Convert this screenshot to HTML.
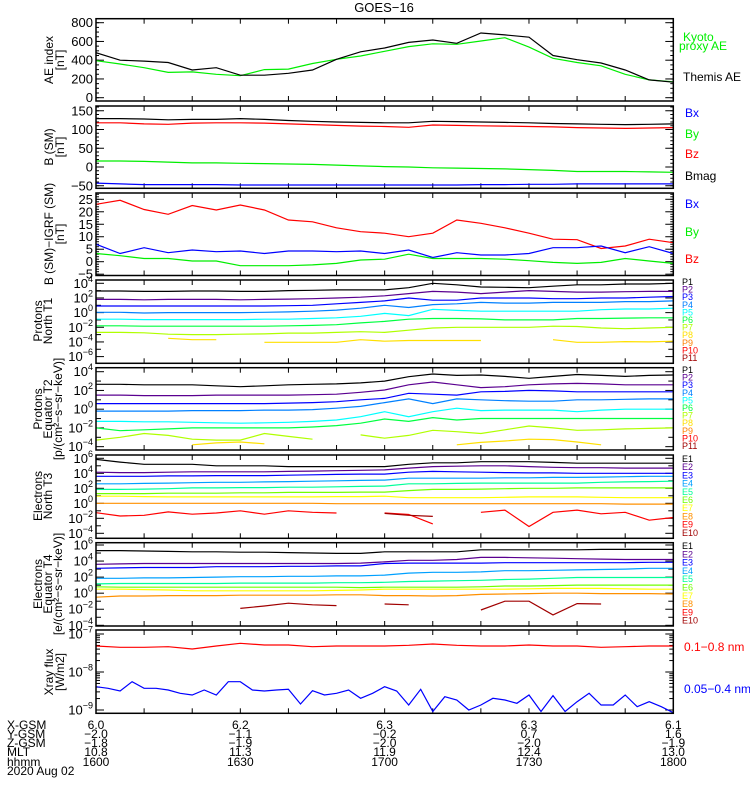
<!DOCTYPE html>
<html><head><meta charset="utf-8"><style>
body{margin:0;background:#fff}
svg{display:block;font-family:"Liberation Sans",sans-serif}
</style></head><body>
<svg id="c" width="750" height="800" viewBox="0 0 750 800"></svg>
<script>
// ---- data (time in minutes after 16:00) ----
const times5 = [0,5,10,15,20,25,30,35,40,45,50,55,60,65,70,75,80,85,90,95,100,105,110,115,120];
const times25 = [0,2.5,5,7.5,10,12.5,15,17.5,20,22.5,25,27.5,30,32.5,35,37.5,40,42.5,45,47.5,50,52.5,55,57.5,60,62.5,65,67.5,70,72.5,75,77.5,80,82.5,85,87.5,90,92.5,95,97.5,100,102.5,105,107.5,110,112.5,115,117.5,120];
const xTickLabels = ["1600","1630","1700","1730","1800"];
const xTickTimes = [0,30,60,90,120];
const xGsm = ["6.0","6.2","6.3","6.3","6.1"];
const yGsm = ["\u22122.0","\u22121.1","\u22120.2","0.7","1.6"];
const zGsm = ["\u22121.8","\u22121.9","\u22122.0","\u22122.0","\u22121.9"];
const mlt = ["10.8","11.3","11.9","12.4","13.0"];
// AE
const aeThemis = [480,400,390,375,295,320,240,240,260,295,410,490,530,590,615,580,690,670,645,450,405,370,295,190,165];
const aeKyoto = [395,360,320,270,275,250,235,300,305,365,410,445,495,545,575,570,605,640,540,420,375,340,250,190,170];
// B (SM)
const bx = [-43,-45,-47,-47,-47,-47,-48,-48,-48,-48,-48,-48,-48,-48,-48,-48,-47,-47,-46,-46,-45,-45,-45,-45,-45];
const by = [16,16,15,13,11,11,10,9,8,7,5,3,1,0,-2,-3,-4,-5,-7,-9,-12,-12,-12,-13,-14];
const bz = [118,118,115,114,117,118,118,117,115,113,111,109,108,106,112,111,110,109,108,107,105,104,103,104,105];
const bmag = [129,129,128,126,127,127,129,127,124,122,120,119,118,118,122,121,120,119,118,116,115,114,113,114,115];
// B - IGRF
const dbx = [7,3.3,5.6,3.6,4.7,4,4.3,3.3,4.3,4.3,4,4.3,3.3,4.7,1.7,3.6,2.7,2.7,3.3,5.6,5.6,6.3,3.6,6,3.3];
const dby = [3.3,2.4,1.3,1.3,0.3,0.3,-1.6,-1.6,-1.6,-1.3,-0.7,0.7,1,3,1.3,1.3,1.3,1,0.4,-0.3,-0.7,-0.3,1.3,0.3,-0.7];
const dbz = [23,24.6,20.9,19,22.5,20.7,22.7,20.7,16.7,16,13.6,12,11.4,10,11.4,16.7,15.4,13.6,11.4,9,8.8,5.3,6.3,9,7.6];
// Protons North T1 (log10 flux)
const pT1 = [
 [2.95,2.95,2.9,2.9,2.95,2.95,2.9,2.9,3.0,3.05,3.1,3.1,3.1,3.4,4.0,3.8,3.5,3.45,3.4,3.6,3.8,3.8,3.9,3.9,4.0],
 [1.8,1.8,1.75,1.8,1.8,1.8,1.75,1.8,1.85,1.9,2.0,2.1,2.3,2.6,2.9,2.8,2.6,2.8,3.0,2.9,2.8,2.8,2.85,2.9,2.9],
 [0.9,0.9,0.9,0.9,0.9,0.9,0.9,0.9,0.95,1.0,1.2,1.4,1.6,2.0,1.7,1.7,2.0,2.0,2.0,1.9,1.9,2.0,2.0,2.1,2.2],
 [0.05,0.05,-0.05,0,0,0,0,0.05,0.1,0.2,0.35,0.6,1.0,0.7,1.1,1.2,1.4,1.3,1.3,1.4,1.4,1.4,1.5,1.5,1.6],
 [-0.9,-0.9,-0.95,-0.95,-0.95,-0.95,-0.95,-0.9,-0.9,-0.8,-0.7,-0.5,-0.1,-0.4,0.45,0.3,0.2,0.2,0.2,0.2,0.2,0.4,0.5,0.5,0.6],
 [-1.8,-1.8,-1.85,-1.85,-1.85,-1.85,-1.85,-1.85,-1.8,-1.75,-1.65,-1.4,-1.2,-0.9,-0.8,-0.8,-0.85,-1.0,-1.0,-1.0,-0.8,-0.8,-0.75,-0.7,-0.7],
 [-2.7,-2.7,-2.75,-2.95,-3.0,-3.0,-2.95,-2.9,-2.8,-2.8,-2.7,-2.6,-2.7,-2.4,-2.1,-2.0,-2.0,-2.0,-2.0,-1.85,-1.9,-2.1,-2.2,-2.1,-2.0],
 [null,null,null,-3.5,-3.7,-3.7,null,-4.05,-4.05,-4.05,-4.05,-3.7,-3.9,-3.8,-3.8,-3.8,-3.8,null,null,-3.7,-4.05,-4.05,-3.95,-4.0,-3.9]
];
// Protons Equator T2
const pT2 = [
 [2.65,2.65,2.6,2.6,2.6,2.5,2.4,2.5,2.6,2.65,2.7,2.8,3.0,3.47,3.75,3.6,3.65,3.5,3.3,3.5,3.7,3.6,3.5,3.6,3.65],
 [1.5,1.5,1.45,1.45,1.45,1.5,1.5,1.5,1.5,1.55,1.6,1.8,2.05,2.6,2.9,2.6,2.3,2.4,2.6,2.7,2.75,2.7,2.6,2.6,2.6],
 [0.6,0.6,0.6,0.6,0.6,0.6,0.6,0.6,0.65,0.7,0.8,1.0,1.15,1.7,1.6,1.5,1.85,1.9,2.0,1.95,1.85,1.85,1.85,1.85,1.85],
 [-0.2,-0.2,-0.2,-0.2,-0.15,-0.15,-0.15,-0.1,-0.1,-0.05,0.1,0.3,0.7,1.1,0.6,1.1,1.0,0.9,0.85,0.85,1.0,1.0,1.05,1.1,1.1],
 [-1.3,-1.3,-1.35,-1.35,-1.4,-1.45,-1.5,-1.45,-1.4,-1.3,-1.15,-0.8,-0.27,-0.8,-0.27,0.1,-0.15,-0.1,-0.1,-0.1,-0.27,-0.1,0,0,0],
 [-2.0,-2.3,-2.2,-2.1,-2.0,-2.0,-2.0,-2.0,-2.0,-1.9,-1.75,-1.5,-1.05,-1.3,-0.9,-1.15,-1.0,-1.0,-1.0,-1.0,-1.0,-1.0,-1.0,-1.0,-1.0],
 [-3.3,-3.0,-2.6,-2.8,-3.2,-3.3,-3.3,-2.6,-2.9,-3.2,null,-2.75,-3.1,-2.8,-2.25,-2.4,-2.6,-2.2,-1.8,-2.0,-2.25,-2.2,-2.1,-2.05,-2.0],
 [null,null,null,null,-3.8,-3.6,-3.5,-3.7,null,null,null,null,null,null,null,-3.8,-3.55,-3.4,-3.2,-3.25,-3.5,-3.8,null,null,null]
];
// Electrons North T3
const eT3 = [
 [5.85,5.5,5.2,5.2,5.2,5.0,5.0,5.0,4.9,4.9,4.9,4.9,4.9,5.2,5.4,5.4,5.55,5.55,5.55,5.45,5.35,5.35,5.35,5.35,5.35],
 [4.15,4.1,4.1,4.15,4.2,4.2,4.2,4.2,4.25,4.3,4.35,4.4,4.45,4.7,4.9,4.95,5.0,5.0,4.9,4.8,4.75,4.75,4.7,4.7,4.7],
 [3.6,3.6,3.6,3.65,3.65,3.7,3.7,3.7,3.75,3.8,3.85,3.9,3.9,4.15,4.25,4.2,4.15,4.1,4.05,4.05,4.0,4.0,4.0,4.0,4.0],
 [2.6,2.6,2.65,2.7,2.75,2.8,2.8,2.85,2.9,2.95,3.0,3.05,3.1,3.35,3.35,3.35,3.35,3.4,3.4,3.45,3.45,3.5,3.55,3.6,3.6],
 [1.85,1.85,1.9,1.95,2.05,2.05,2.1,2.1,2.15,2.15,2.2,2.25,2.3,2.6,2.6,2.65,2.7,2.7,2.7,2.7,2.7,2.8,2.85,2.9,2.95],
 [1.3,1.3,1.3,1.35,1.35,1.35,1.4,1.4,1.45,1.45,1.45,1.5,1.5,1.7,1.85,1.85,1.9,1.95,2.0,2.0,2.05,2.05,2.05,2.05,2.05],
 [0.95,0.95,0.9,0.85,0.85,0.85,0.85,0.85,0.85,0.85,0.9,0.9,0.95,0.75,0.75,0.75,0.75,0.8,0.85,0.85,0.85,0.8,0.75,0.75,0.75],
 [0,0,0,0,0,0,0,0,0,0,-0.05,-0.05,-0.05,-0.05,-0.05,-0.05,-0.05,-0.05,-0.05,-0.05,-0.05,-0.05,-0.1,-0.1,-0.1],
 [-1.25,-1.7,-1.6,-1.15,-1.45,-1.3,-1.0,-1.45,-1.0,-1.2,-1.3,null,-1.3,-1.5,-2.75,null,-1.2,-0.9,-3.1,-1.2,-0.9,-1.4,-1.2,-2.25,-1.9],
 [null,null,null,null,null,null,null,null,null,null,null,null,-1.35,-1.6,-1.75,null,null,null,null,null,null,null,null,null,null]
];
// Electrons Equator T4
const eT4 = [
 [5.3,5.3,5.25,5.2,5.15,5.15,5.1,5.1,5.05,5.0,4.95,4.95,5.15,5.15,5.15,5.15,5.4,5.4,5.4,5.4,5.4,5.45,5.45,5.45,5.45],
 [3.6,3.65,3.7,3.7,3.7,3.7,3.7,3.7,3.7,3.7,3.7,3.75,3.9,4.1,4.1,4.2,4.45,4.45,4.4,4.35,4.3,4.25,4.2,4.2,4.2],
 [3.1,3.15,3.2,3.2,3.2,3.3,3.3,3.3,3.35,3.35,3.4,3.4,3.7,3.75,3.75,3.75,3.75,3.8,3.8,3.8,3.8,3.8,3.8,3.85,3.85],
 [1.85,1.85,1.9,1.9,1.95,2.0,2.05,2.05,2.1,2.1,2.15,2.15,2.25,2.5,2.6,2.6,2.65,2.8,2.8,2.85,2.9,2.95,3.0,3.1,3.1],
 [1.15,1.2,1.2,1.2,1.2,1.2,1.25,1.25,1.25,1.25,1.3,1.3,1.35,1.45,1.5,1.55,1.6,1.7,1.75,1.85,1.95,1.95,1.95,1.95,1.95],
 [0.8,0.75,0.75,0.75,0.75,0.75,0.75,0.75,0.75,0.75,0.75,0.7,0.75,0.75,0.75,0.75,0.8,0.9,0.9,0.95,1.0,1.0,1.0,1.0,1.0],
 [0.5,0.5,0.45,0.4,0.3,0.3,0.3,0.3,0.3,0.3,0.35,0.4,0.5,0.5,0.5,0.5,0.5,0.5,0.55,0.6,0.6,0.6,0.55,0.5,0.5],
 [-0.5,-0.35,-0.35,-0.3,-0.3,-0.3,-0.25,-0.25,-0.25,-0.25,-0.2,-0.2,-0.3,-0.3,-0.35,-0.3,-0.15,-0.1,-0.05,0,0,-0.05,-0.05,-0.05,-0.1],
 [null,null,null,null,null,null,null,null,null,null,null,null,null,null,null,null,null,null,null,null,null,null,null,null,null],
 [null,null,null,null,null,null,-1.9,-1.6,-1.25,-1.45,-1.55,null,-1.35,-1.45,null,null,-2.1,-1.0,-1.0,-2.7,-1.3,-1.35,null,null,null]
];
// X-ray (log10 W/m2)
const xrayLong = [-7.316,-7.351,-7.351,-7.333,-7.395,-7.316,-7.246,-7.289,-7.289,-7.333,-7.316,-7.316,-7.316,-7.298,-7.263,-7.298,-7.316,-7.316,-7.289,-7.316,-7.316,-7.351,-7.333,-7.316,-7.316];
const xrayShort = [-8.386,-8.43,-8.5,-8.254,-8.43,-8.43,-8.474,-8.561,-8.605,-8.474,-8.605,-8.254,-8.254,-8.474,-8.5,-8.474,-8.456,-8.842,-8.491,-8.605,-8.561,-8.474,-8.693,-8.561,-8.386,-8.5,-8.868,-8.456,-9.04,-8.649,-8.737,-9.0,-8.868,-8.693,-8.737,-8.825,-8.605,-9.04,-8.62,-9.04,-8.781,-8.561,-8.868,-8.868,-8.605,-8.912,-8.781,-8.912,-9.07];

const pColors = ["#000000","#5a0090","#0000ff","#0080ff","#00ffff","#00ff40","#b0ff00","#ffe000","#ff8000","#ff0000","#a00000"];
const eColors = ["#000000","#5a0090","#0000ff","#00a0ff","#00ff99","#70ff00","#ffff00","#ff9000","#ff0000","#a00000"];

// ---- drawing ----
const NS = "http://www.w3.org/2000/svg";
const svg = document.getElementById("c");
const X0 = 96, X1 = 673.3;
function xs(t){ return X0 + t*(X1-X0)/120; }
function mk(tag, attrs, parent){
  const e = document.createElementNS(NS, tag);
  for (const k in attrs) e.setAttribute(k, attrs[k]);
  (parent||svg).appendChild(e);
  return e;
}
function txt(x,y,s,opt){
  const e = mk("text",{x:x,y:y,"font-size":(opt&&opt.fs)||12,fill:(opt&&opt.fill)||"#000","text-anchor":(opt&&opt.anchor)||"start"});
  e.textContent = s;
  return e;
}

// panels: top, bottom, value->y mapping
const panels = [
 {name:"ae-panel", top:18.7, bot:101, y:v=>97.7-v*0.09375, lin:{min:0,max:800,step:200,minor:50}},
 {name:"b-sm-panel", top:106, bot:188.3, y:v=>167-v*0.375, lin:{min:-50,max:150,step:50,minor:10}},
 {name:"b-igrf-panel", top:193, bot:275.5, y:v=>261.7-v*2.496, lin:{min:-5,max:25,step:5,minor:1}},
 {name:"protons-t1-panel", top:280, bot:363.3, y:L=>283.3+(4-L)*7.33, log:{min:-6,max:4}},
 {name:"protons-t2-panel", top:367.7, bot:450, y:L=>371.7+(4-L)*9.37, log:{min:-4,max:4}},
 {name:"electrons-t3-panel", top:455, bot:538.3, y:L=>458.3+(6-L)*7.5, log:{min:-4,max:6}},
 {name:"electrons-t4-panel", top:542.7, bot:626, y:L=>545+(6-L)*8.03, log:{min:-4,max:6}},
 {name:"xray-panel", top:630, bot:713.3, y:L=>634+(-7-L)*38, log:{min:-9,max:-7}, xray:true}
];

panels.forEach((p,pi)=>{
  const g = mk("g",{});
  
  
  const clipId = "clip"+pi;
  const cp = mk("clipPath",{id:clipId},g);
  mk("rect",{x:X0,y:p.top,width:X1-X0,height:p.bot-p.top},cp);
  // ticks
  const tk = mk("g",{stroke:"#000","stroke-width":1},g);
  function tick(y,len){
    if (y<p.top-0.5||y>p.bot+0.5) return;
    mk("line",{x1:X0,y1:y,x2:X0+len,y2:y},tk);
    mk("line",{x1:X1,y1:y,x2:X1-len,y2:y},tk);
  }
  if (p.lin){
    const l=p.lin;
    for (let v=l.min-l.step; v<=l.max+l.step; v+=l.minor) tick(p.y(v),3);
    for (let v=l.min; v<=l.max; v+=l.step){
      tick(p.y(v),8);
      const lab = txt(93,p.y(v)+4.5,(v<0?"\u2212":"")+Math.abs(v),{anchor:"end",fs:13});
      
      
    }
  } else {
    const l=p.log;
    for (let e=l.min; e<=l.max; e++){
      if (p.xray){
        for (let m=2;m<=9;m++) tick(p.y(e+Math.log10(m)),4);
        tick(p.y(e),8);
      } else {
        tick(p.y(e), (e-l.min)%2===0?8:5);
      }
      if (p.xray || (e-l.min)%2===0){
        const lab = mk("text",{x:93,y:p.y(e)+4.5,"font-size":13,"text-anchor":"end"});
        lab.textContent="10";
        const sup = mk("tspan",{dy:-6,"font-size":9},lab);
        sup.textContent = (e<0?"\u2212":"")+Math.abs(e);
        
        
      }
    }
  }
  for (let t=0;t<=120;t+=10){
    const len = 5;
    mk("line",{x1:xs(t),y1:p.top,x2:xs(t),y2:p.top+len},tk);
    mk("line",{x1:xs(t),y1:p.bot,x2:xs(t),y2:p.bot-len},tk);
  }
  p.g=g; p.clip="url(#"+clipId+")";
});

function series(pi, times, vals, color, name){
  const p = panels[pi];
  let d="", pen=false;
  for (let i=0;i<vals.length;i++){
    if (vals[i]===null||vals[i]===undefined){pen=false;continue;}
    d += (pen?"L":"M")+xs(times[i]).toFixed(1)+","+p.y(vals[i]).toFixed(1);
    pen=true;
  }
  const path = mk("path",{d:d,fill:"none",stroke:color,"stroke-width":1.2,"clip-path":p.clip},p.g);
  
  
}
series(0,times5,aeKyoto,"#00ee00","kyoto-ae-line");
series(0,times5,aeThemis,"#000","themis-ae-line");
series(1,times5,bmag,"#000","bmag-line");
series(1,times5,bz,"#ff0000","bz-line");
series(1,times5,by,"#00ee00","by-line");
series(1,times5,bx,"#0000ff","bx-line");
series(2,times5,dbz,"#ff0000","dbz-line");
series(2,times5,dbx,"#0000ff","dbx-line");
series(2,times5,dby,"#00ee00","dby-line");
pT1.forEach((s,i)=>series(3,times5,s,pColors[i],"proton-t1-p"+(i+1)));
pT2.forEach((s,i)=>series(4,times5,s,pColors[i],"proton-t2-p"+(i+1)));
eT3.forEach((s,i)=>series(5,times5,s,eColors[i],"electron-t3-e"+(i+1)));
eT4.forEach((s,i)=>series(6,times5,s,eColors[i],"electron-t4-e"+(i+1)));
series(7,times5,xrayLong,"#ff0000","xray-long-line");
series(7,times25,xrayShort,"#0000ff","xray-short-line");

// frames on top
panels.forEach(p=>{
  mk("rect",{x:X0,y:p.top,width:X1-X0,height:p.bot-p.top,fill:"none",stroke:"#000","stroke-width":1.5},p.g);
});
</script>
<svg width="750" height="800" style="position:absolute;left:0;top:0" font-family="Liberation Sans, sans-serif">
 <text x="384" y="12" font-size="13" text-anchor="middle">GOES−16</text>
 <!-- y axis titles -->
 <g font-size="12" text-anchor="middle">
  <text transform="translate(53,60) rotate(-90)">AE index</text>
  <text transform="translate(64,60) rotate(-90)">[nT]</text>
  <text transform="translate(53,147) rotate(-90)">B (SM)</text>
  <text transform="translate(64,147) rotate(-90)">[nT]</text>
  <text transform="translate(53,234) rotate(-90)">B (SM)−IGRF (SM)</text>
  <text transform="translate(64,234) rotate(-90)">[nT]</text>
  <text transform="translate(42,321) rotate(-90)">Protons</text>
  <text transform="translate(52,321) rotate(-90)">North T1</text>
  <text transform="translate(42,409) rotate(-90)">Protons</text>
  <text transform="translate(52,409) rotate(-90)">Equator T2</text>
  <text transform="translate(62,409) rotate(-90)">[p/(cm²−s−sr−keV)]</text>
  <text transform="translate(42,496) rotate(-90)">Electrons</text>
  <text transform="translate(52,496) rotate(-90)">North T3</text>
  <text transform="translate(42,584) rotate(-90)">Electrons</text>
  <text transform="translate(52,584) rotate(-90)">Equator T4</text>
  <text transform="translate(62,584) rotate(-90)">[e/(cm²−s−sr−keV)]</text>
  <text transform="translate(53,672) rotate(-90)">Xray flux</text>
  <text transform="translate(64,672) rotate(-90)">[W/m2]</text>
 </g>
 <!-- legends -->
 <g font-size="12">
  <text x="683" y="41" fill="#00ee00">Kyoto</text>
  <text x="679" y="50" fill="#00ee00">proxy AE</text>
  <text x="683" y="81" fill="#000">Themis AE</text>
  <text x="685" y="117" fill="#0000ff">Bx</text>
  <text x="685" y="138" fill="#00ee00">By</text>
  <text x="685" y="158" fill="#ff0000">Bz</text>
  <text x="685" y="180" fill="#000">Bmag</text>
  <text x="685" y="208" fill="#0000ff">Bx</text>
  <text x="685" y="236" fill="#00ee00">By</text>
  <text x="685" y="263" fill="#ff0000">Bz</text>
  <text x="684" y="651" fill="#ff0000">0.1−0.8 nm</text>
  <text x="684" y="693" fill="#0000ff">0.05−0.4 nm</text>
 </g>
 <g font-size="9" id="chanleg"></g>
 <!-- bottom annotations -->
 <g font-size="12">
  <text x="7" y="729">X-GSM</text><text x="7" y="738">Y-GSM</text><text x="7" y="747">Z-GSM</text>
  <text x="7" y="756">MLT</text><text x="7" y="766">hhmm</text><text x="7" y="775">2020 Aug 02</text>
 </g>
 <g font-size="12" text-anchor="middle" id="tab"></g>
</svg>
<script>
(function(){
  const NS="http://www.w3.org/2000/svg";
  const leg=document.getElementById("chanleg");
  function add(x,y,s,c,name){
    const t=document.createElementNS(NS,"text");
    t.setAttribute("x",x);t.setAttribute("y",y);t.setAttribute("fill",c);
    t.textContent=s;
    
    
    leg.appendChild(t);
  }
  for(let i=0;i<11;i++){
    add(682,285+i*7.6,"P"+(i+1),pColors[i],"legend-t1-p"+(i+1));
    add(682,373+i*7.6,"P"+(i+1),pColors[i],"legend-t2-p"+(i+1));
  }
  for(let i=0;i<10;i++){
    add(682,462+i*8.2,"E"+(i+1),eColors[i],"legend-t3-e"+(i+1));
    add(682,549+i*8.3,"E"+(i+1),eColors[i],"legend-t4-e"+(i+1));
  }
  const tab=document.getElementById("tab");
  const rows=[xGsm,yGsm,zGsm,mlt,xTickLabels];
  const ys=[729,738,747,756,766];
  rows.forEach((r,ri)=>r.forEach((s,ci)=>{
    const t=document.createElementNS(NS,"text");
    t.setAttribute("x",xs(xTickTimes[ci]).toFixed(1));t.setAttribute("y",ys[ri]);
    t.textContent=s;
    
    
    tab.appendChild(t);
  }));
})();
</script>
</body></html>
